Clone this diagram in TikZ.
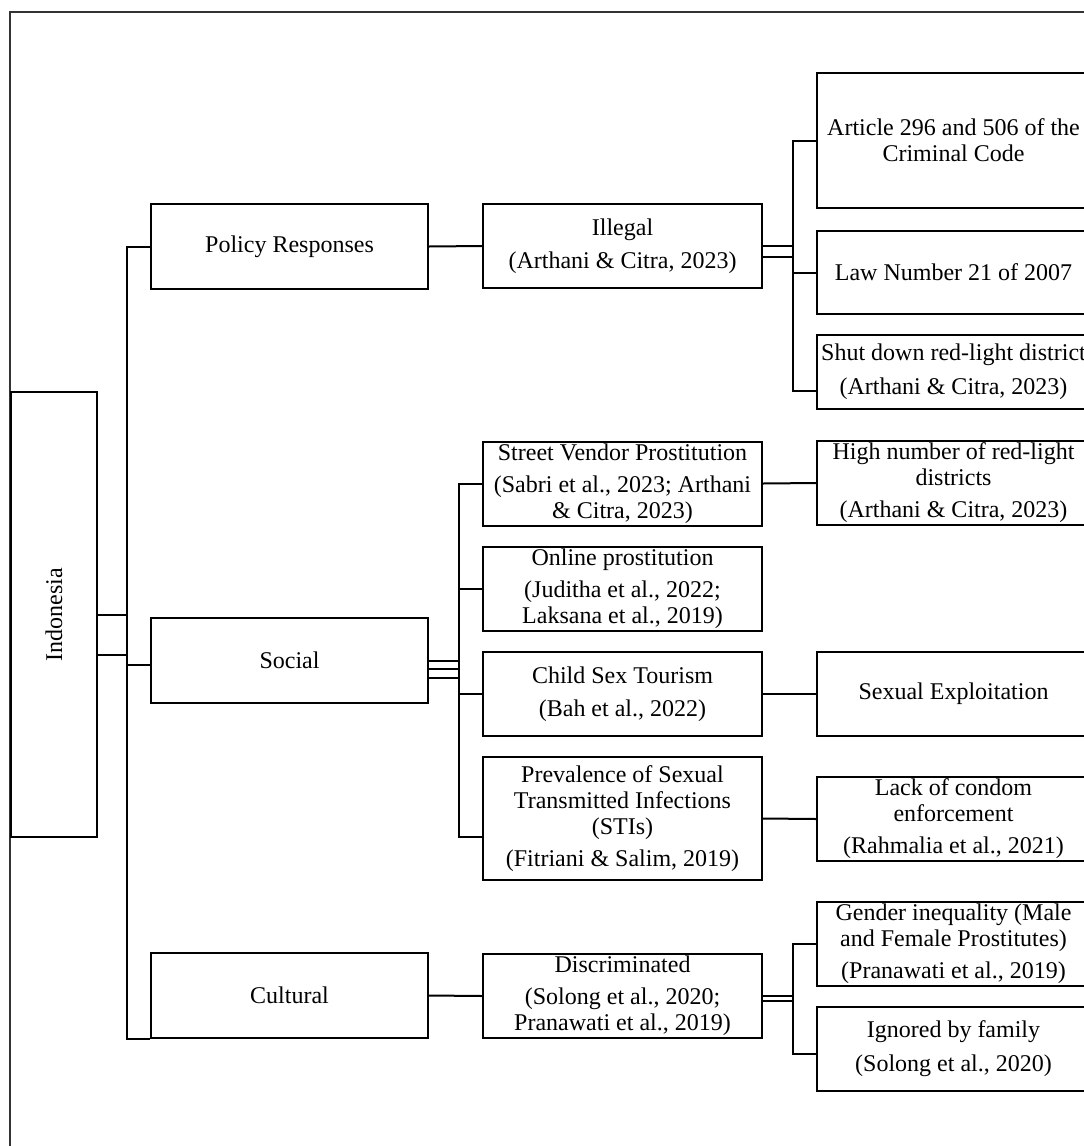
\documentclass[tikz,border=0pt]{standalone}
\usepackage{fontspec}
\setmainfont{Liberation Serif}
\usepackage{graphicx}
\usepackage{tikz}
\usetikzlibrary{positioning}
\tikzstyle{box} = [draw, line width=1pt, inner sep=0pt, align=center, font=\fontsize{12}{13}\selectfont]
\tikzstyle{topic} = [box, minimum width=138.5pt, minimum height=42.5pt]
\tikzstyle{issue} = [box, minimum width=139.5pt, minimum height=42pt]
\tikzstyle{detail} = [box, minimum width=136.5pt, minimum height=42pt]
\tikzstyle{wire} = [line width=1pt]
\tikzstyle{frame} = [line width=0.8pt, black!80]

\begin{document}
\begin{tikzpicture}[x=0.5pt, y=-0.5pt]

        \useasboundingbox (0,0) rectangle (1083,1146);
        \draw[frame] (10,1150) -- (10,12) -- (1100,12);

        \node[box, minimum width=43pt, minimum height=222.5pt] (indonesia) at (54,614.5) {\rotatebox{90}{Indonesia}};

        % first level
        \node[topic] (policy) at (289.5,246.5) {Policy Responses};
        \node[topic] (social) at (289.5,660.5) {Social};
        \node[topic] (cultural) at (289.5,995.5) {Cultural};

        % second level
        \node[issue] (illegal) at (622.5,246) {Illegal\\[3.5pt](Arthani \& Citra, 2023)};
        \node[issue] (street) at (622.5,483.5) {Street Vendor Prostitution\\[3pt](Sabri et al., 2023; Arthani\\\& Citra, 2023)};
        \node[issue] (online) at (622.5,589) {Online prostitution\\[3pt](Juditha et al., 2022;\\Laksana et al., 2019)};
        \node[issue] (child) at (622.5,694) {Child Sex Tourism\\[3.5pt](Bah et al., 2022)};
        \node[issue, minimum height=61.5pt] (prev) at (622.5,818.5) {Prevalence of Sexual\\Transmitted Infections\\(STIs)\\[3pt](Fitriani \& Salim, 2019)};
        \node[issue] (discr) at (622.5,996) {Discriminated\\[3pt](Solong et al., 2020;\\Pranawati et al., 2019)};

        % third level
        \node[detail, minimum height=67.5pt] (article) at (953.5,140.5) {Article 296 and 506 of the\\Criminal Code};
        \node[detail, minimum height=41.5pt] (law) at (953.5,272.5) {Law Number 21 of 2007};
        \node[detail, minimum height=37pt] (shut) at (953.5,372) {Shut down red-light district\\[4pt](Arthani \& Citra, 2023)};
        \node[detail] (high) at (953.5,483) {High number of red-light\\districts\\[3pt](Arthani \& Citra, 2023)};
        \node[detail] (sexexp) at (953.5,694) {Sexual Exploitation};
        \node[detail] (lack) at (953.5,819) {Lack of condom\\enforcement\\[3pt](Rahmalia et al., 2021)};
        \node[detail] (gender) at (953.5,944) {Gender inequality (Male\\and Female Prostitutes)\\[3pt](Pranawati et al., 2019)};
        \node[detail] (ignored) at (953.5,1049) {Ignored by family\\[4pt](Solong et al., 2020)};

        % trunk from Indonesia
        \coordinate (trunk) at (127,665);
        \draw[wire] (policy.west) -| (trunk) |- (cultural.south west);
        \draw[wire] (trunk) -- (social.west |- trunk);
        \draw[wire] (indonesia.east) -- (indonesia.east -| trunk);
        \path ([yshift=-20pt]indonesia.east) coordinate (ind2);
        \draw[wire] (ind2) -- (ind2 -| trunk);

        % policy branch
        \coordinate (ilbus) at (793,0);
        \draw[wire] (policy.east) -- (illegal.west);
        \draw[wire] (illegal.east) -- (illegal.east -| ilbus);
        \path ([yshift=-5.5pt]illegal.east) coordinate (il2);
        \draw[wire] (il2) -- (il2 -| ilbus);
        \path ([yshift=-9.5pt]shut.west) coordinate (shutin);
        \draw[wire] (article.west) -| (ilbus |- law.west) |- (shutin);
        \draw[wire] (law.west) -- (ilbus |- law.west);

        % social branch
        \coordinate (socbus) at (459,0);
        \draw[wire] (social.east) -- (social.east -| socbus);
        \path ([yshift=-4.25pt]social.east) coordinate (so2);
        \path ([yshift=-8.75pt]social.east) coordinate (so3);
        \draw[wire] (so2) -- (so2 -| socbus);
        \draw[wire] (so3) -- (so3 -| socbus);
        \path ([yshift=-9pt]prev.west) coordinate (previn);
        \draw[wire] (street.west) -| (socbus |- online.west) |- (previn);
        \draw[wire] (online.west) -- (socbus |- online.west);
        \draw[wire] (child.west) -- (socbus |- child.west);
        \draw[wire] (street.east) -- (high.west);
        \draw[wire] (child.east) -- (sexexp.west);
        \draw[wire] (prev.east) -- (lack.west);

        % cultural branch
        \draw[wire] (cultural.east) -- (discr.west);
        \draw[wire] (discr.east) -- (discr.east -| ilbus);
        \path ([yshift=-2.5pt]discr.east) coordinate (di2);
        \draw[wire] (di2) -- (di2 -| ilbus);
        \path ([yshift=-2.5pt]ignored.west) coordinate (ignin);
        \draw[wire] (gender.west) -| (ilbus |- discr.east) |- (ignin);

\end{tikzpicture}
\end{document}
